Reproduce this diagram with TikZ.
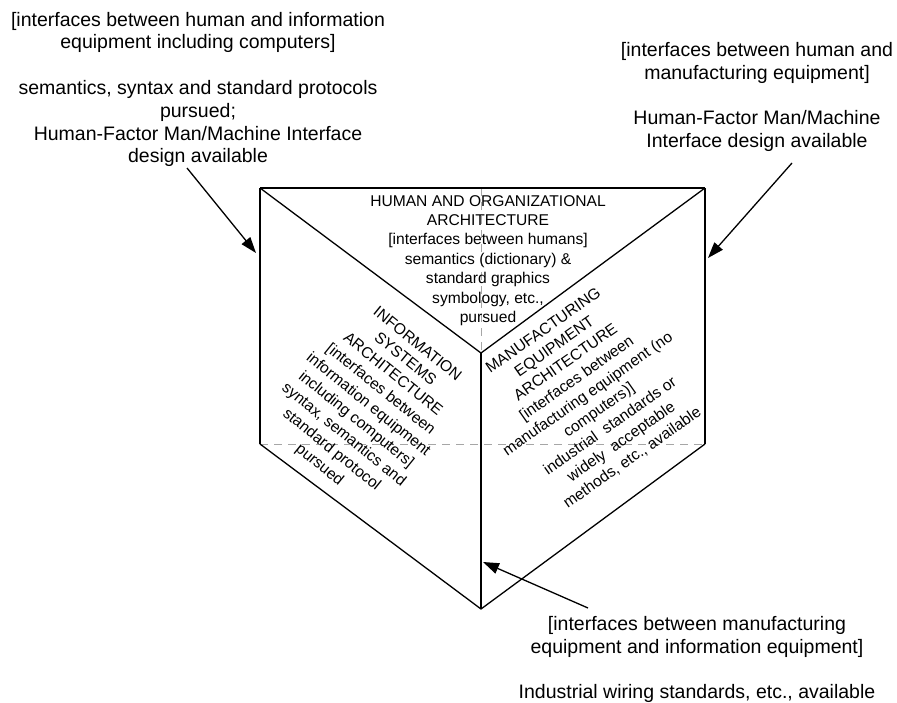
\documentclass[tikz,border=0pt]{standalone}
\usepackage{fontspec}
\setmainfont{Liberation Sans}
\usetikzlibrary{arrows.meta}
\begin{document}
\begin{tikzpicture}[x=1pt,y=-1pt,
  outer/.style={font=\fontsize{19.5}{22.8}\selectfont, align=center, inner sep=0pt},
  facetext/.style={font=\fontsize{15.6}{19.4}\selectfont, align=center, inner sep=0pt},
  edge/.style={line width=1.3pt, line join=round},
  post/.style={line width=1.9pt},
  guide/.style={gray!70, dash pattern=on 8pt off 6pt, line width=1pt},
  pointer/.style={line width=1.3pt, -{Triangle[length=16pt,width=11pt]}}]
\useasboundingbox (0,0) rectangle (897,702);

% corners of the three-faced prism
\coordinate (A) at (260,188);
\coordinate (B) at (705,188);
\coordinate (C) at (481,353);
\coordinate (D) at (481,609);
\coordinate (E) at (260,444);
\coordinate (F) at (705,444);
\coordinate (Gt) at (481,188);

% hidden construction lines
\draw[guide] (E) -- (F);
\draw[guide] (Gt) -- (C);

% faces
\draw[edge] (A) -- (B);
\draw[edge] (A) -- (C) -- (B);
\draw[edge] (E) -- (D) -- (F);
\draw[post] (A) -- (E);
\draw[post] (B) -- (F);
\draw[post] (C) -- (D);

% face labels
\node[facetext] (human) at (488,260.5) {HUMAN AND ORGANIZATIONAL\\ARCHITECTURE\\{[interfaces between humans]}\\semantics (dictionary) \&\\standard graphics\\symbology, etc.,\\pursued};
\node[facetext, rotate=-39] (info) at (368,405) {INFORMATION\\SYSTEMS\\ARCHITECTURE\\{[interfaces between}\\information equipment\\including computers]\\syntax, semantics and\\standard protocol\\pursued};
\node[facetext, rotate=35] (manuf) at (588,394.5) {MANUFACTURING\\EQUIPMENT\\ARCHITECTURE\\{[interfaces between}\\manufacturing equipment (no\\computers)]\\industrial\ \ standards or\\widely\ \ acceptable\\methods, etc., available};

% outside annotations
\node[outer] (hi) at (198,89.5) {{[interfaces between human and information}\\equipment including computers]\\~\\semantics, syntax and standard protocols\\pursued;\\Human-Factor Man/Machine Interface\\design available};
\node[outer] (hm) at (757,97) {{[interfaces between human and}\\manufacturing equipment]\\~\\Human-Factor Man/Machine\\Interface design available};
\node[outer] (mi) at (697,659.5) {{[interfaces between manufacturing}\\equipment and information equipment]\\~\\Industrial wiring standards, etc., available};

% pointers to the faces' shared edges
\coordinate (hiTail) at (187,168);
\coordinate (hiTip) at (256,253);
\coordinate (hmTail) at (792,163);
\coordinate (hmTip) at (708,258);
\coordinate (miTail) at (588,608);
\coordinate (miTip) at (483,562);
\draw[pointer] (hiTail) -- (hiTip);
\draw[pointer] (hmTail) -- (hmTip);
\draw[pointer] (miTail) -- (miTip);
\end{tikzpicture}
\end{document}
